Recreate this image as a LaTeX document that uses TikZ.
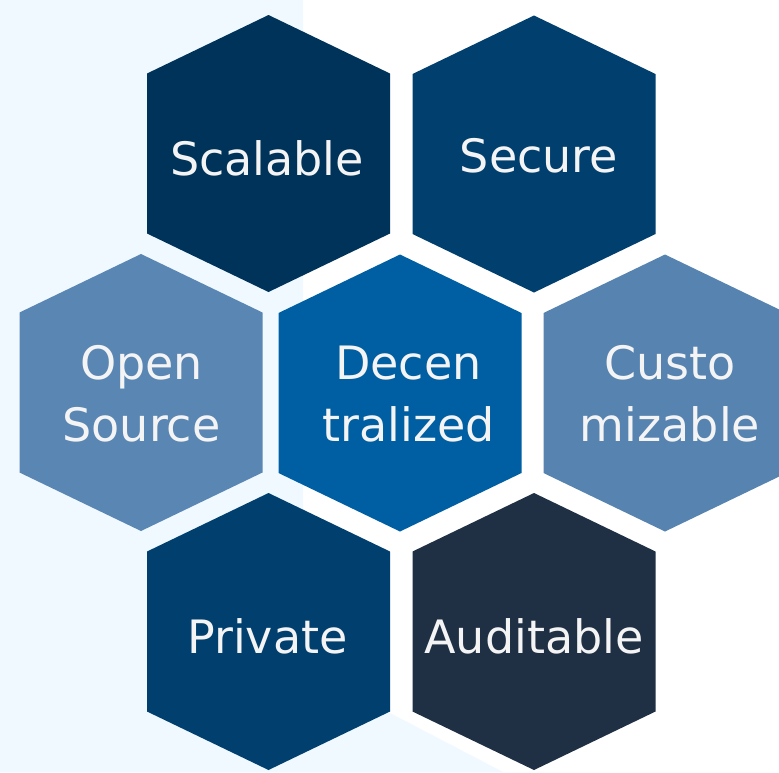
\documentclass[tikz,border=0pt]{standalone}
\usepackage{fontspec}
\setmainfont{DejaVu Sans}
\definecolor{bgblue}{HTML}{F0F9FF}
\definecolor{navyA}{HTML}{003359}
\definecolor{navyB}{HTML}{003F6E}
\definecolor{steelA}{HTML}{5A86B3}
\definecolor{steelB}{HTML}{5683B0}
\definecolor{midblue}{HTML}{005FA2}
\definecolor{slate}{HTML}{1F2F44}
\definecolor{txt}{HTML}{F4F4F4}
\newcommand\myhex[3]{%
  \fill[#3] (#1,#2) ++(0,-138.5) -- ++(121.5,58.5) -- ++(0,160) -- ++(-121.5,58.5)
    -- ++(-121.5,-58.5) -- ++(0,-160) -- cycle;}
\begin{document}
\begin{tikzpicture}[x=1pt,y=-1pt,
  lbl/.style={text=txt,font=\fontsize{46}{62}\selectfont,inner sep=0pt,align=center}]
\useasboundingbox (0,0) rectangle (779,772);
\fill[white] (0,0) rectangle (779,772);
\fill[bgblue] (0,0) -- (303,0) -- (303,600) -- (388,712) -- (503,772) -- (0,772) -- cycle;
\myhex{268.5}{153.5}{navyA}
\myhex{534}{154}{navyB}
\myhex{141}{392.5}{steelA}
\myhex{400}{393}{midblue}
\myhex{665}{393}{steelB}
\myhex{268.5}{631.5}{navyB}
\myhex{534}{631.5}{slate}
\node[lbl,anchor=base] (scalable) at (267,175) {Scalable};
\node[lbl,anchor=base] (secure) at (539,172) {Secure};
\node[lbl] (open) at (141.5,394) {Open\\Source};
\node[lbl] (decentral) at (408.5,394) {Decen\\tralized};
\node[lbl] (custom) at (670,394) {Custo\\mizable};
\node[lbl,anchor=base] (private) at (267.5,653) {Private};
\node[lbl,anchor=base] (auditable) at (534,653) {Auditable};
\end{tikzpicture}
\end{document}
